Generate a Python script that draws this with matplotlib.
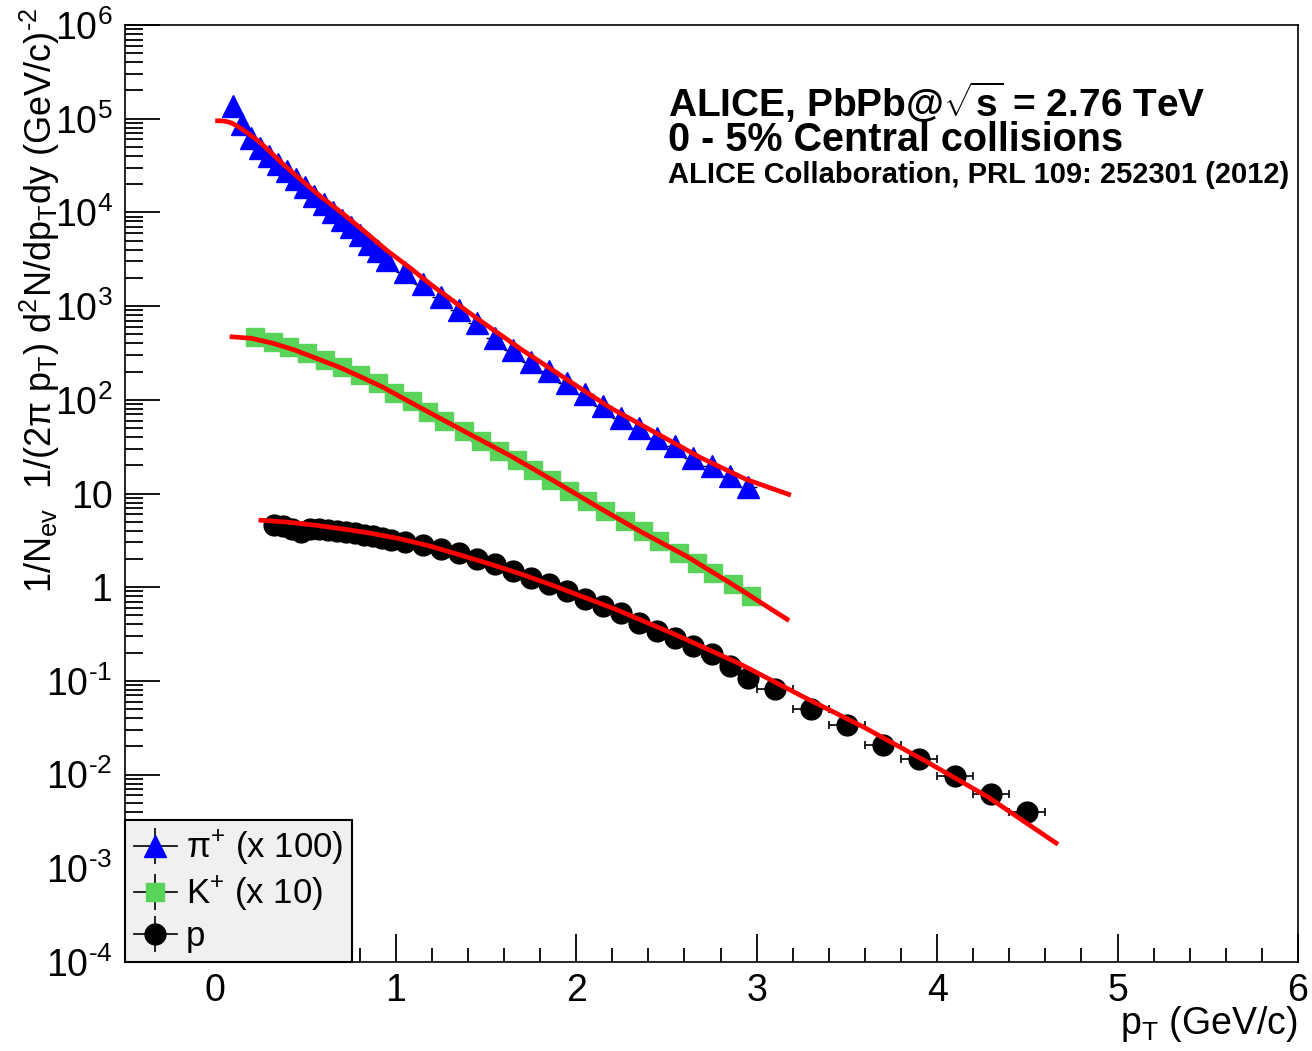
import matplotlib
matplotlib.use("Agg")
import matplotlib.pyplot as plt
from matplotlib.lines import Line2D
from matplotlib.ticker import LogLocator, MultipleLocator, NullFormatter
from matplotlib.legend_handler import HandlerTuple

# ---------------- data ----------------
pi_pt = [0.10, 0.15, 0.20, 0.25, 0.30, 0.35, 0.40, 0.45, 0.50, 0.55, 0.60, 0.65,
         0.70, 0.75, 0.80, 0.85, 0.90, 0.95,
         1.05, 1.15, 1.25, 1.35, 1.45, 1.55, 1.65, 1.75, 1.85, 1.95,
         2.05, 2.15, 2.25, 2.35, 2.45, 2.55, 2.65, 2.75, 2.85, 2.95]
pi_val = [1.36e5, 8.7e4, 6.3e4, 4.9e4, 4.0e4, 3.27e4, 2.78e4, 2.27e4, 1.85e4, 1.51e4,
          1.23e4, 1.0e4, 8.2e3, 6.95e3, 5.7e3, 4.6e3, 3.9e3, 3.1e3,
          2.3e3, 1.74e3, 1.26e3, 908, 656, 454, 341, 256, 201, 151,
          114, 85, 64, 50, 39, 32, 24, 19.7, 15.4, 11.6]
pi_xerr = [0.025] * 18 + [0.05] * 20

k_pt = [0.22, 0.32, 0.41, 0.51, 0.61, 0.70, 0.80, 0.90, 0.99, 1.09, 1.18, 1.27,
        1.38, 1.47, 1.57, 1.67, 1.76, 1.86, 1.96, 2.06, 2.16, 2.27, 2.37, 2.46,
        2.57, 2.67, 2.76, 2.87, 2.97]
k_val = [472, 417, 369, 313, 267, 226, 185, 150, 118, 96, 75, 59, 46, 36, 28.2,
         23, 18, 14.1, 10.6, 8.3, 6.5, 5.1, 4.0, 3.1, 2.34, 1.83, 1.43, 1.08, 0.81]
k_xerr = [0.05] * 29

p_pt = [0.325, 0.375, 0.425, 0.475, 0.525, 0.575, 0.625, 0.675, 0.725, 0.775,
        0.825, 0.875, 0.925, 0.975,
        1.05, 1.15, 1.25, 1.35, 1.45, 1.55, 1.65, 1.75, 1.85, 1.95,
        2.05, 2.15, 2.25, 2.35, 2.45, 2.55, 2.65, 2.75, 2.85, 2.95,
        3.1, 3.3, 3.5, 3.7, 3.9, 4.1, 4.3, 4.5]
p_val = [4.57, 4.47, 4.17, 3.89, 4.22, 4.17, 4.07, 3.98, 3.89, 3.76,
         3.63, 3.51, 3.35, 3.20,
         3.02, 2.82, 2.57, 2.33, 1.98, 1.75, 1.49, 1.26, 1.07, 0.91,
         0.74, 0.63, 0.535, 0.419, 0.341, 0.29, 0.236, 0.192, 0.145, 0.108,
         0.081, 0.0507, 0.0339, 0.0209, 0.0148, 0.00966, 0.00617, 0.00398]
p_xerr = [0.025] * 14 + [0.05] * 20 + [0.1] * 8

# fit curves
pi_fit_pt = [0.0, 0.03, 0.06, 0.09, 0.12, 0.15, 0.19, 0.24, 0.29, 0.37, 0.46, 0.58,
             0.71, 0.83, 0.95, 1.08, 1.20, 1.45, 1.70, 1.95, 2.19, 2.44, 2.69,
             2.94, 3.19]
pi_fit_val = [9.5e4, 9.5e4, 9.35e4, 9.0e4, 8.4e4, 7.7e4, 6.8e4, 5.75e4, 4.7e4,
              3.35e4, 2.36e4, 1.5e4, 9.6e3, 6.2e3, 3.94e3, 2.55e3, 1.67e3, 740,
              341, 164, 82, 44.5, 24.1, 14.2, 9.6]

k_fit_pt = [0.08, 0.20, 0.32, 0.44, 0.56, 0.68, 0.80, 0.92, 1.16, 1.40, 1.64, 1.88,
            2.13, 2.37, 2.61, 2.85, 3.18]
k_fit_val = [472, 453, 401, 340, 277, 226, 178, 139, 78, 44, 25, 13.5, 7.0, 3.8,
             2.15, 1.12, 0.44]

p_fit_pt = [0.24, 0.40, 0.55, 0.70, 0.85, 1.02, 1.19, 1.36, 1.53, 1.71, 1.88,
            2.22, 2.57, 2.91, 3.25, 3.60, 3.94, 4.28, 4.67]
p_fit_val = [5.2, 4.95, 4.6, 4.2, 3.8, 3.3, 2.75, 2.2, 1.75, 1.35, 1.03,
             0.58, 0.30, 0.151, 0.069, 0.0316, 0.0138, 0.0058, 0.0018]

y_ticks = [1e-4, 1e-3, 1e-2, 1e-1, 1, 10, 1e2, 1e3, 1e4, 1e5, 1e6]
y_ticklabels = ['10$^{\\text{-}4}$', '10$^{\\text{-}3}$', '10$^{\\text{-}2}$',
                '10$^{\\text{-}1}$', '1', '10',
                '10$^{2}$', '10$^{3}$', '10$^{4}$', '10$^{5}$', '10$^{6}$']
x_ticks = [0, 1, 2, 3, 4, 5, 6]
legend_labels = ['\u03c0$^{+}$ (x 100)', 'K$^{+}$ (x 10)', 'p']

# ---------------- styling ----------------
plt.rcParams['font.family'] = ['Liberation Sans', 'DejaVu Sans']
plt.rcParams['mathtext.fontset'] = 'custom'
plt.rcParams['mathtext.rm'] = 'Liberation Sans'
plt.rcParams['mathtext.it'] = 'Liberation Sans:italic'
plt.rcParams['mathtext.bf'] = 'Liberation Sans:bold'
plt.rcParams['axes.linewidth'] = 1.2

W, H = 1312, 1051
fig = plt.figure(figsize=(W / 100, H / 100), dpi=100)
fig.patch.set_facecolor('white')
L, R, T, B = 125, 1298, 25, 962
ax = fig.add_axes([L / W, 1 - B / H, (R - L) / W, (B - T) / H])
ax.set_yscale('log')
ax.set_xlim(-0.5, 6)
ax.set_ylim(1e-4, 1e6)

blue = '#0000ff'
green = '#5ad35a'
red = '#ff0000'
ms_pi, ms_k, ms_p = 16, 12.5, 15

ax.errorbar(pi_pt, pi_val, xerr=pi_xerr, fmt='^', ms=ms_pi, color=blue, mec=blue,
            ecolor='black', elinewidth=1, capsize=0, zorder=3)
ax.errorbar(k_pt, k_val, xerr=k_xerr, fmt='s', ms=ms_k, color=green, mec=green,
            ecolor='black', elinewidth=1, capsize=0, zorder=3)
ax.errorbar(p_pt, p_val, xerr=p_xerr, fmt='o', ms=ms_p, color='black', mec='black',
            ecolor='black', elinewidth=1.2, capsize=3, capthick=1.2, zorder=3)

for xs, ys in [(pi_fit_pt, pi_fit_val), (k_fit_pt, k_fit_val), (p_fit_pt, p_fit_val)]:
    ax.plot(xs, ys, color=red, lw=3.4, solid_capstyle='butt', zorder=4)

ax.set_yticks(y_ticks)
ax.set_yticklabels(y_ticklabels)
ax.yaxis.set_minor_locator(LogLocator(base=10, subs=range(2, 10), numticks=20))
ax.yaxis.set_minor_formatter(NullFormatter())
ax.set_xticks(x_ticks)
ax.set_xticklabels([str(v) for v in x_ticks])
ax.xaxis.set_minor_locator(MultipleLocator(0.2))

ax.tick_params(axis='both', which='both', direction='in', top=False, right=False,
               width=1.3, labelsize=27, colors='black')
ax.tick_params(axis='y', which='major', length=25, pad=9)
ax.tick_params(axis='y', which='minor', length=13)
ax.tick_params(axis='x', which='major', length=20, pad=8)
ax.tick_params(axis='x', which='minor', length=10)

# legend
def entry(marker, color, ms):
    hline = Line2D([], [], color='black', lw=1.2)
    vline = Line2D([], [], marker='|', ms=26, color='black', ls='none', mew=1.2)
    mk = Line2D([], [], marker=marker, color=color, mec=color, ls='none', ms=ms)
    return (hline, vline, mk)

handles = [entry('^', blue, 16), entry('s', green, 13), entry('o', 'black', 15)]
leg = ax.legend(handles, legend_labels, loc='lower left', bbox_to_anchor=(0, 0),
                borderaxespad=0, frameon=True, fancybox=False, edgecolor='black',
                facecolor='#f0f0f0', framealpha=1, fontsize=25, handlelength=1.25,
                handletextpad=0.25, labelspacing=0.22, borderpad=0.25,
                handler_map={tuple: HandlerTuple(ndivide=1)})
leg.get_frame().set_linewidth(1.5)
leg.set_zorder(10)

# axis titles
fig.text(R / W, 1 - 1024 / H, 'p$_{\\mathrm{T}}$ (GeV/c)', ha='right', va='center',
         fontsize=27)
fig.text(40 / W, 1 - 8 / H,
         '1/N$_{\\mathrm{ev}}$  1/(2\u03c0 p$_{\\mathrm{T}}$) d$^{2}$N/dp$_{\\mathrm{T}}$dy (GeV/c)$^{\\text{-}2}$',
         rotation=90, ha='center', va='top', fontsize=26)

# annotations
fig.text(668 / W, 1 - 102 / H, 'ALICE, PbPb@$\\sqrt{\\mathbf{s}}$ = 2.76 TeV',
         fontweight='bold', fontsize=28, va='center', ha='left')
fig.text(668 / W, 1 - 140 / H, '0 - 5% Central collisions',
         fontweight='bold', fontsize=28.5, va='center', ha='left')
fig.text(668 / W, 1 - 175 / H, 'ALICE Collaboration, PRL 109: 252301 (2012)',
         fontweight='bold', fontsize=21, va='center', ha='left')

fig.savefig('out.png', dpi=100, facecolor='white')
